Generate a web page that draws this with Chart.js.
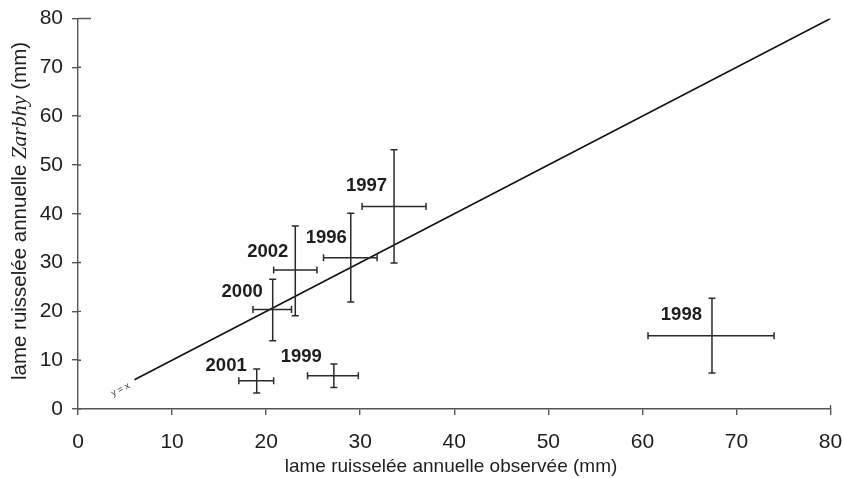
<!DOCTYPE html>
<html>
<head>
<meta charset="utf-8">
<script src="https://cdn.jsdelivr.net/npm/chart.js@4/dist/chart.umd.min.js"></script>
<style>
html,body{margin:0;padding:0;background:#fff;}
#wrap{width:843px;height:478px;}
</style>
</head>
<body>
<div id="wrap"><canvas id="c" width="843" height="478"></canvas></div>
<script>
// ---- data ----
const years    = ['1996','1997','1998','1999','2000','2001','2002'];
const observed = [29.0, 33.6, 67.4, 27.2, 20.7, 19.0, 23.1];
const obsLow   = [26.1, 30.2, 60.6, 24.4, 18.6, 17.1, 20.8];
const obsHigh  = [31.8, 37.0, 74.0, 29.8, 22.7, 20.8, 25.4];
const simulated= [31.0, 41.5, 15.0, 6.8, 20.4, 5.8, 28.5];
const simLow   = [21.9, 29.9, 7.4, 4.4, 14.0, 3.3, 19.1];
const simHigh  = [40.1, 53.1, 22.7, 9.2, 26.6, 8.2, 37.5];
const identityLine = [6, 80];
const tickValues = [0, 10, 20, 30, 40, 50, 60, 70, 80];

const xTitle = 'lame ruisselée annuelle observée (mm)';
const yTitleParts = ['lame ruisselée annuelle ', 'Zarbhy', ' (mm)'];
const lineLabel = 'y = x';

const SANS = '"Liberation Sans", Arial, sans-serif';
const INK = '#1e1e1e';

// label placement (pixel offsets from the point centre, right-aligned text)
const labelOffsets = {
  '1996': [-4, -15], '1997': [-7, -15], '1998': [-10, -16], '1999': [-12, -14],
  '2000': [-10, -12], '2001': [-10, -10], '2002': [-7, -13]
};

const errorBarPlugin = {
  id: 'errorBars',
  afterDatasetsDraw(chart) {
    const ctx = chart.ctx, xs = chart.scales.x, ys = chart.scales.y;
    const cap = 3.5;
    ctx.save();
    ctx.strokeStyle = '#2a2a2a';
    ctx.lineWidth = 1.5;
    for (let i = 0; i < years.length; i++) {
      const cx = xs.getPixelForValue(observed[i]);
      const cy = ys.getPixelForValue(simulated[i]);
      const x1 = xs.getPixelForValue(obsLow[i]), x2 = xs.getPixelForValue(obsHigh[i]);
      const y1 = ys.getPixelForValue(simLow[i]), y2 = ys.getPixelForValue(simHigh[i]);
      ctx.beginPath();
      ctx.moveTo(x1, cy); ctx.lineTo(x2, cy);
      ctx.moveTo(x1, cy - cap); ctx.lineTo(x1, cy + cap);
      ctx.moveTo(x2, cy - cap); ctx.lineTo(x2, cy + cap);
      ctx.moveTo(cx, y1); ctx.lineTo(cx, y2);
      ctx.moveTo(cx - cap, y1); ctx.lineTo(cx + cap, y1);
      ctx.moveTo(cx - cap, y2); ctx.lineTo(cx + cap, y2);
      ctx.stroke();
      const off = labelOffsets[years[i]];
      ctx.fillStyle = INK;
      ctx.font = 'bold 18.5px ' + SANS;
      ctx.textAlign = 'right';
      ctx.textBaseline = 'alphabetic';
      ctx.fillText(years[i], cx + off[0], cy + off[1]);
    }
    // y = x label, rotated along the line
    const lx = xs.getPixelForValue(identityLine[0]);
    const ly = ys.getPixelForValue(identityLine[0]);
    const ang = Math.atan2(ys.getPixelForValue(identityLine[1]) - ly, xs.getPixelForValue(identityLine[1]) - lx);
    ctx.translate(lx - 14, ly + 10);
    ctx.rotate(ang);
    ctx.font = '9px ' + SANS;
    ctx.textAlign = 'center';
    ctx.textBaseline = 'middle';
    ctx.fillStyle = '#333';
    ctx.fillText(lineLabel, 0, 0);
    ctx.restore();
  },
  afterDraw(chart) {
    const ctx = chart.ctx, a = chart.chartArea, ys = chart.scales.y;
    ctx.save();
    // inner part of y ticks
    ctx.strokeStyle = '#555';
    ctx.lineWidth = 1.4;
    ctx.beginPath();
    tickValues.forEach(v => {
      const py = ys.getPixelForValue(v);
      ctx.moveTo(a.left, py); ctx.lineTo(a.left + (v === 80 ? 13 : 3), py);
    });
    // right end cap on x axis
    ctx.moveTo(a.right, a.bottom - 4); ctx.lineTo(a.right, a.bottom);
    ctx.stroke();
    // x title
    ctx.fillStyle = INK;
    ctx.font = '19px ' + SANS;
    ctx.textAlign = 'center';
    ctx.textBaseline = 'middle';
    ctx.fillText(xTitle, 451, 467);
    // y title with italic part
    const fonts = ['20.5px ' + SANS, 'italic 22px "Liberation Serif", serif', '20.5px ' + SANS];
    let total = 0;
    const widths = yTitleParts.map((t, k) => { ctx.font = fonts[k]; const w = ctx.measureText(t).width; total += w; return w; });
    ctx.translate(20, 211);
    ctx.rotate(-Math.PI / 2);
    ctx.textAlign = 'left';
    let x = -total / 2;
    yTitleParts.forEach((t, k) => { ctx.font = fonts[k]; ctx.fillText(t, x, 0); x += widths[k]; });
    ctx.restore();
  }
};

const axisCommon = {
  type: 'linear', min: 0, max: 80,
  grid: { display: true, drawOnChartArea: false, drawTicks: true, tickLength: 6, color: '#555', lineWidth: 1.4 },
  border: { display: true, color: '#555', width: 1.4 },
  ticks: { stepSize: 10, color: INK, font: { family: SANS, size: 21 } }
};

new Chart(document.getElementById('c'), {
  type: 'scatter',
  data: {
    datasets: [
      {
        type: 'line',
        data: identityLine.map(v => ({ x: v, y: v })),
        borderColor: '#111', borderWidth: 1.6, pointRadius: 0, fill: false, tension: 0
      },
      {
        data: observed.map((v, i) => ({ x: v, y: simulated[i] })),
        pointRadius: 0, showLine: false
      }
    ]
  },
  options: {
    responsive: false,
    animation: false,
    devicePixelRatio: 1,
    layout: { padding: { left: 0, right: 12.5, top: 18.5, bottom: 0 } },
    plugins: { legend: { display: false }, tooltip: { enabled: false } },
    scales: {
      x: Object.assign({}, axisCommon, {
        ticks: Object.assign({}, axisCommon.ticks, { padding: 15, maxRotation: 0 }),
        afterFit(s) { s.height = 69; s.paddingLeft = 0; s.paddingRight = 0; }
      }),
      y: Object.assign({}, axisCommon, {
        ticks: Object.assign({}, axisCommon.ticks, { padding: 9 }),
        afterFit(s) { s.width = 78; s.paddingTop = 0; s.paddingBottom = 0; }
      })
    }
  },
  plugins: [errorBarPlugin]
});
</script>
</body>
</html>
